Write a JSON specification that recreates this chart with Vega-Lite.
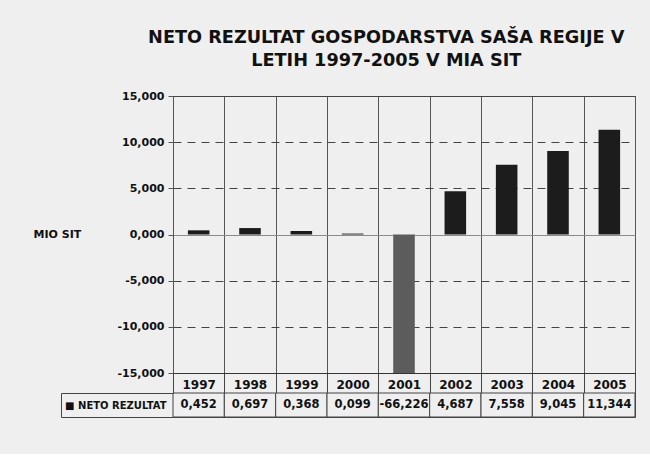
{
  "$schema": "https://vega.github.io/schema/vega-lite/v6.json",
  "background": "#efefef",
  "padding": {"left": 32, "top": 28, "right": 14, "bottom": 36},
  "title": {
    "text": ["NETO REZULTAT GOSPODARSTVA SAŠA REGIJE V", "LETIH 1997-2005 V MIA SIT"],
    "font": "DejaVu Sans", "fontSize": 17.7, "fontWeight": "bold", "lineHeight": 23,
    "color": "#111111", "anchor": "middle", "offset": 20, "dx": 52
  },
  "data": {"values": [
    {"year": "1997", "series": "NETO REZULTAT", "value": 0.452},
    {"year": "1998", "series": "NETO REZULTAT", "value": 0.697},
    {"year": "1999", "series": "NETO REZULTAT", "value": 0.368},
    {"year": "2000", "series": "NETO REZULTAT", "value": 0.099},
    {"year": "2001", "series": "NETO REZULTAT", "value": -66.226},
    {"year": "2002", "series": "NETO REZULTAT", "value": 4.687},
    {"year": "2003", "series": "NETO REZULTAT", "value": 7.558},
    {"year": "2004", "series": "NETO REZULTAT", "value": 9.045},
    {"year": "2005", "series": "NETO REZULTAT", "value": 11.344}
  ]},
  "bounds": "flush",
  "spacing": 20,
  "vconcat": [
    {
      "width": 462,
      "height": 277,
      "mark": {"type": "bar", "width": {"band": 0.42}, "clip": true},
      "encoding": {
        "x": {
          "field": "year", "type": "ordinal",
          "scale": {"paddingInner": 0, "paddingOuter": 0},
          "axis": {
            "title": null, "labelAngle": 0, "tickBand": "extent", "tickSize": 20,
            "tickColor": "#444444", "grid": true, "gridColor": "#555555",
            "domain": true, "domainColor": "#333333",
            "labelPadding": -5, "labelBaseline": "alphabetic",
            "labelFont": "DejaVu Sans", "labelFontSize": 12, "labelFontWeight": "bold", "labelColor": "#111111"
          }
        },
        "y": {
          "field": "value", "type": "quantitative",
          "scale": {"domain": [-15, 15], "nice": false},
          "axis": {
            "values": [-15, -10, -5, 0, 5, 10, 15], "format": ".3f",
            "title": "MIO SIT", "titleAngle": 0, "titleAlign": "left", "titleBaseline": "middle",
            "titleX": -140, "titleY": 138.5,
            "titleFont": "DejaVu Sans", "titleFontSize": 11, "titleFontWeight": "bold", "titleColor": "#111111",
            "labelFont": "DejaVu Sans", "labelFontSize": 11, "labelFontWeight": "bold", "labelColor": "#111111",
            "labelPadding": 4, "tickSize": 5, "tickColor": "#555555",
            "domain": true, "domainColor": "#555555",
            "grid": true,
            "gridColor": {"condition": {"test": "datum.value == 0", "value": "#8a8a8a"}, "value": "#444444"},
            "gridDash": {"condition": {"test": "abs(datum.value) == 5 || abs(datum.value) == 10", "value": [8, 6]}, "value": []}
          }
        },
        "color": {"condition": {"test": "datum.value < 0", "value": "#5c5c5c"}, "value": "#1c1c1c"}
      }
    },
    {
      "width": 462,
      "height": 24,
      "layer": [
        {
          "mark": {"type": "rect", "fill": "#efefef", "stroke": "#444444", "strokeWidth": 1},
          "encoding": {
            "x": {"field": "year", "type": "ordinal", "axis": null, "scale": {"paddingInner": 0, "paddingOuter": 0}},
            "y": {
              "field": "series", "type": "nominal",
              "scale": {"paddingInner": 0, "paddingOuter": 0},
              "axis": {
                "title": null, "orient": "left", "tickBand": "extent", "tickSize": 112, "tickColor": "#444444",
                "domain": false, "labelExpr": "datum.label ? '■ ' + datum.label : ''", "labelPadding": -105, "labelAlign": "right",
                "labelFont": "DejaVu Sans", "labelFontSize": 10, "labelFontWeight": "bold", "labelColor": "#111111"
              }
            }
          }
        },
        {
          "mark": {"type": "text", "font": "DejaVu Sans", "fontSize": 11.5, "fontWeight": "bold", "color": "#111111"},
          "encoding": {
            "x": {"field": "year", "type": "ordinal"},
            "y": {
              "field": "series", "type": "nominal",
              "axis": {"title": null, "orient": "left", "offset": 112, "ticks": false, "labels": false, "domain": true, "domainColor": "#444444"}
            },
            "text": {"field": "value", "type": "quantitative", "format": ".3f"}
          }
        }
      ],
      "resolve": {"axis": {"y": "independent"}}
    }
  ],
  "config": {
    "view": {"stroke": "#444444"},
    "locale": {"number": {"decimal": ",", "thousands": ".", "grouping": [3], "currency": ["", ""], "minus": "-"}}
  }
}
